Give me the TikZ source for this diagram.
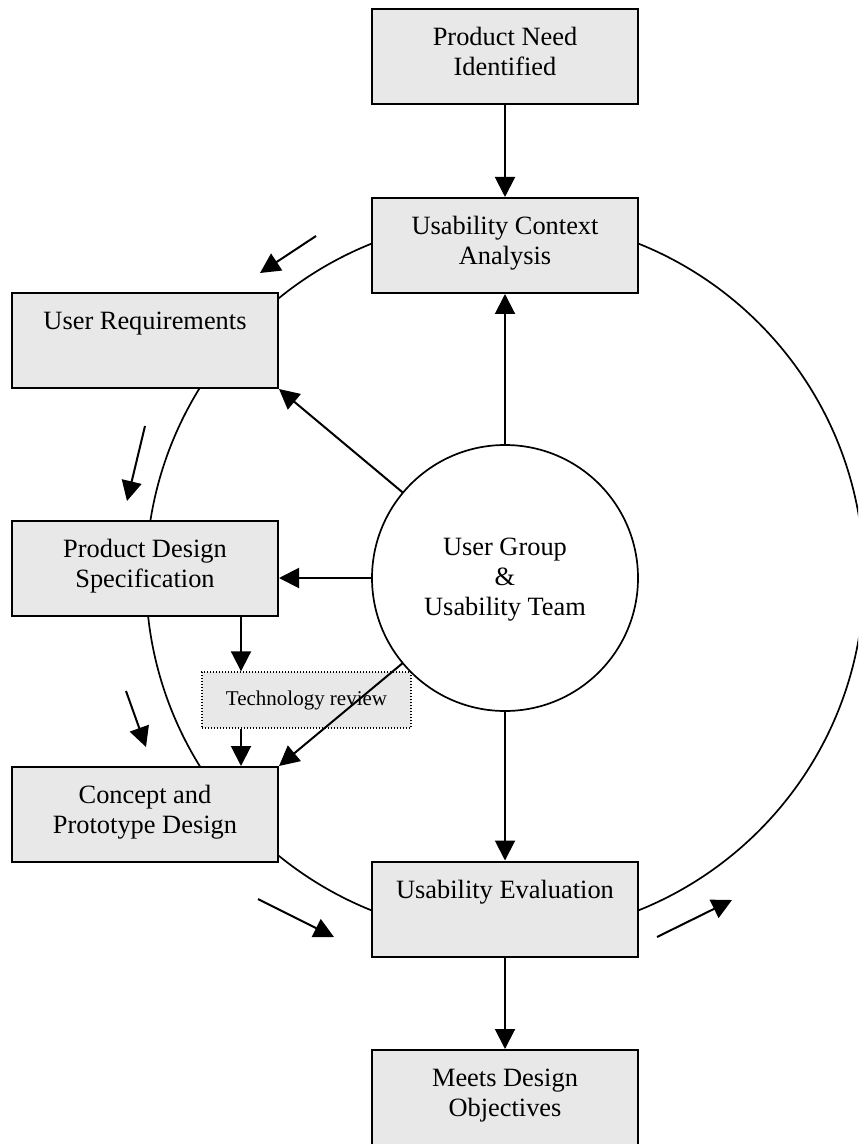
\documentclass[tikz,border=0pt]{standalone}
\usepackage{fontspec}
\setmainfont{Liberation Serif}
\usetikzlibrary{arrows.meta}
\definecolor{boxgray}{RGB}{232,232,232}
\newcommand\tstr{\rule{0pt}{9.5pt}}
\newcommand\bstr{\rule[-5.5pt]{0pt}{5.5pt}}
\newcommand\ctstr{\rule{0pt}{10pt}}
\newcommand\cbstr{\rule[-3pt]{0pt}{3pt}}
\tikzset{
  box/.style={draw, line width=1pt, fill=boxgray, minimum width=133pt,
    minimum height=47.5pt, inner sep=0pt, align=center,
    font=\fontsize{13.2}{15}\selectfont},
  techbox/.style={draw, line width=0.7pt, dash pattern=on 0.7pt off 0.8pt,
    fill=boxgray, minimum width=104.5pt, minimum height=28pt, inner sep=0pt,
    font=\fontsize{10.5}{12}\selectfont},
  ugroup/.style={draw, circle, line width=0.85pt, fill=white,
    minimum size=133pt, inner sep=0pt, align=center,
    font=\fontsize{13.2}{15}\selectfont},
  conn/.style={line width=1pt, -{Triangle[length=10pt,width=10pt]}},
  ring/.style={line width=0.85pt}
}
\begin{document}
\begin{tikzpicture}[x=0.5pt,y=-0.5pt]
\clip (0,0) rectangle (858,1144);
\fill[white] (0,0) rectangle (858,1144);
% outer cycle
\draw[ring] (505,577) circle[radius=179.5pt];
% nodes
\node[box] (need) at (505,56.5) {\tstr Product Need\\Identified\bstr};
\node[box] (uca) at (505,245.5) {\tstr Usability Context\\Analysis\bstr};
\node[box] (ur) at (145,340.5) {\tstr User Requirements\\\bstr};
\node[box] (pds) at (145,568.5) {\tstr Product Design\\Specification\bstr};
\node[box] (cpd) at (145,814.5) {\tstr Concept and\\Prototype Design\bstr};
\node[techbox] (tech) at (306.5,700) {Technology review};
\node[box] (ue) at (505,909) {\tstr Usability Evaluation\\\bstr};
\node[box] (mdo) at (505,1097.5) {\tstr Meets Design\\Objectives\bstr};
\node[ugroup] (ug) at (505,578) {\ctstr User Group\\\&\\Usability Team\cbstr};
% connectors
\draw[conn] (need) -- (uca);
\draw[conn] (ug) -- (uca);
\draw[conn] (ug) -- (ur.south east);
\draw[conn] (ug.west) -- (ug.west -| pds.east);
\draw[conn] ([xshift=-19pt]pds.south east) -- ([xshift=-19pt]pds.south east |- tech.north);
\draw[conn] ([xshift=-19pt]pds.south east |- tech.south) -- ([xshift=-19pt]cpd.north east);
\draw[conn] (ug) -- (cpd.north east);
\draw[conn] (ug) -- (ue);
\draw[conn] (ue) -- (mdo);
% direction arrows around the cycle
\coordinate (d1a) at (316,236); \coordinate (d1b) at (260,273);
\coordinate (d2a) at (145,426); \coordinate (d2b) at (127,501);
\coordinate (d3a) at (126,691); \coordinate (d3b) at (146,747);
\coordinate (d4a) at (258,899); \coordinate (d4b) at (334,937);
\coordinate (d5a) at (657,937); \coordinate (d5b) at (732,900);
\draw[conn] (d1a) -- (d1b);
\draw[conn] (d2a) -- (d2b);
\draw[conn] (d3a) -- (d3b);
\draw[conn] (d4a) -- (d4b);
\draw[conn] (d5a) -- (d5b);
\end{tikzpicture}
\end{document}
